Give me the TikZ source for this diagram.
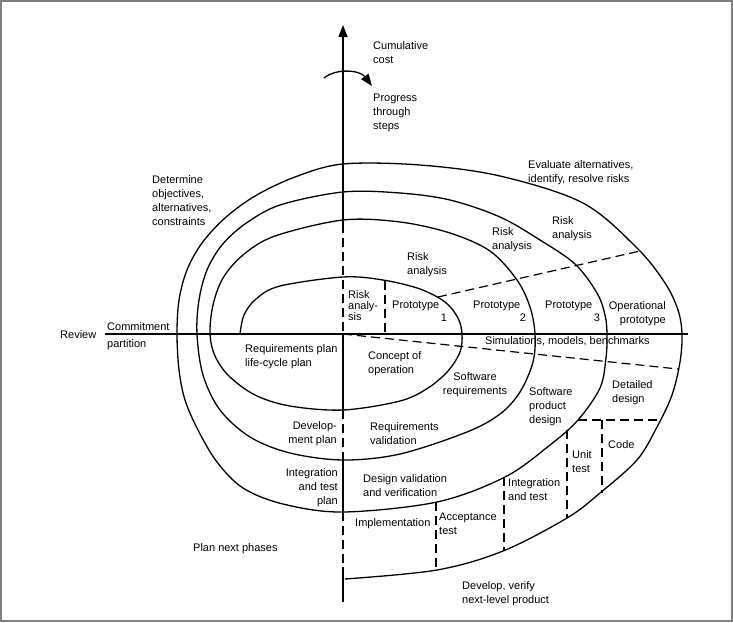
\documentclass[tikz,border=0pt]{standalone}
\usepackage{fontspec}
\setmainfont{Liberation Sans}
\usetikzlibrary{arrows.meta}

\begin{document}
\begin{tikzpicture}[x=1pt,y=-1pt,
  font=\fontsize{11}{14}\selectfont, >={Triangle[length=12pt,width=9pt]},
  t/.style={inner sep=0pt,align=left,anchor=north west},
  tr/.style={inner sep=0pt,align=right,anchor=north east},
  sp/.style={line width=1.3pt,line join=round},
  ax/.style={line width=1.4pt},
  dsh/.style={line width=1.2pt,dash pattern=on 9pt off 5pt}
]
\useasboundingbox (0,0) rectangle (733,622);
\draw[gray,line width=1.5pt] (1,1) rectangle (732,621);

% axes
\coordinate (ytop) at (343,25);
\coordinate (o) at (343,334);
\coordinate (xl) at (105,334);
\coordinate (xr) at (688,334);
\draw[ax] (xl) -- (xr);
\draw[ax,->] (343,224) -- (ytop);
\draw[ax,dsh] (343,224) -- (o);
\draw[ax] (o) -- (343,410);
\draw[ax,dsh] (343,410) -- (343,457);
\draw[ax] (343,457) -- (343,512);
\draw[ax,dsh] (343,512) -- (343,567);
\draw[ax] (343,567) -- (343,602);
\draw[line width=1.3pt,->] (324,78) .. controls (336,68) and (360,70) .. (372,86);

% spiral
\draw[sp] plot[smooth,tension=0.55] coordinates {
  (240,334) (244,315) (256,299) (280,286) (343,277) (383,280) (420,289) (445,302) (458,318) (462,334)
  (460,352) (448,371) (428,388) (400,401) (343,410) (290,406) (255,395) (229,376) (215,356) (210,334)
  (213,305) (223,278) (243,255) (275,236) (343,220) (400,222) (450,233) (490,251) (517,280) (530,307) (535,334)
  (533,362) (520,392) (500,414) (467,432) (400,454) (343,460) (290,453) (250,437) (220,410) (203,375) (197,334)
  (199,300) (207,270) (222,245) (245,224) (280,205) (343,192) (400,193) (450,200) (500,217) (540,240) (575,264) (597,293) (605,315) (607,334)
  (606,358) (600,388) (578,420) (550,445) (505,477) (437,502) (343,512) (283,504) (243,488) (217,462) (198,430) (185,400) (179,370) (177,334)
  (179,300) (187,270) (202,243) (225,218) (255,196) (295,177) (343,164) (420,165) (500,176) (583,203) (637,248) (665,283) (678,310) (682,334)
  (680,362) (672,395) (657,427) (637,460) (600,493) (567,518) (503,551) (437,570) (345,579)};

% dashed partitions
\draw[dsh] (385,281) -- (385,334);
\draw[dsh] (438,297) -- (640,251);
\draw[dsh] (o) -- (678,369);
\draw[dsh] (578,420) -- (658,420);
\draw[dsh] (602,420) -- (602,493);
\draw[dsh] (567,430) -- (567,518);
\draw[dsh] (504,477) -- (504,551);
\draw[dsh] (436,502) -- (436,570);

% labels
\node[t] (cost) at (373,41) {Cumulative\\cost};
\node[t] (steps) at (373,94) {Progress\\through\\steps};
\node[t] (det) at (152,175) {Determine\\objectives,\\alternatives,\\constraints};
\node[t] (eval) at (528,160) {Evaluate alternatives,\\identify, resolve risks};
\node[t] (risk4) at (552,216) {Risk\\analysis};
\node[t] (risk3) at (492,227) {Risk\\analysis};
\node[t] (risk2) at (407,252) {Risk\\analysis};
\node[t,font=\fontsize{11}{11}\selectfont] (risk1) at (348,290) {Risk\\analy-\\sis};
\node[t] (proto1) at (392,301) {Prototype};
\node (n1) at (444,318) {1};
\node[t] (proto2) at (473,301) {Prototype};
\node (n2) at (523,318) {2};
\node[t] (proto3) at (545,301) {Prototype};
\node (n3) at (597,318) {3};
\node[tr] (oper) at (666,301) {Operational\\prototype};
\node[t] (sim) at (485,336) {Simulations, models, benchmarks};
\node[t] (reqplan) at (245,344) {Requirements plan\\life-cycle plan};
\node[t] (concept) at (368,351) {Concept of\\operation};
\node[inner sep=0pt,align=center,anchor=north] (swreq) at (475,372) {Software\\requirements};
\node[tr] (devplan) at (337,421) {Develop-\\ment plan};
\node[t] (reqval) at (370,422) {Requirements\\validation};
\node[t] (swprod) at (529,387) {Software\\product\\design};
\node[t] (detail) at (612,380) {Detailed\\design};
\node[t] (code) at (608,440) {Code};
\node[t] (unit) at (572,450) {Unit\\test};
\node[t] (inttest) at (508,478) {Integration\\and test};
\node[tr] (intplan) at (338,468) {Integration\\and test\\plan};
\node[t] (desval) at (363,474) {Design validation\\and verification};
\node[t] (impl) at (355,518) {Implementation};
\node[t] (accept) at (439,513) {Acceptance\\test};
\node[t] (plannext) at (193,543) {Plan next phases};
\node[t] (develop) at (462,581) {Develop, verify\\next-level product};
\node[inner sep=0pt,anchor=west] (review) at (60,335) {Review};
\node[t] (commit) at (107,322) {Commitment};
\node[t] (partit) at (107,339) {partition};
\end{tikzpicture}
\end{document}
